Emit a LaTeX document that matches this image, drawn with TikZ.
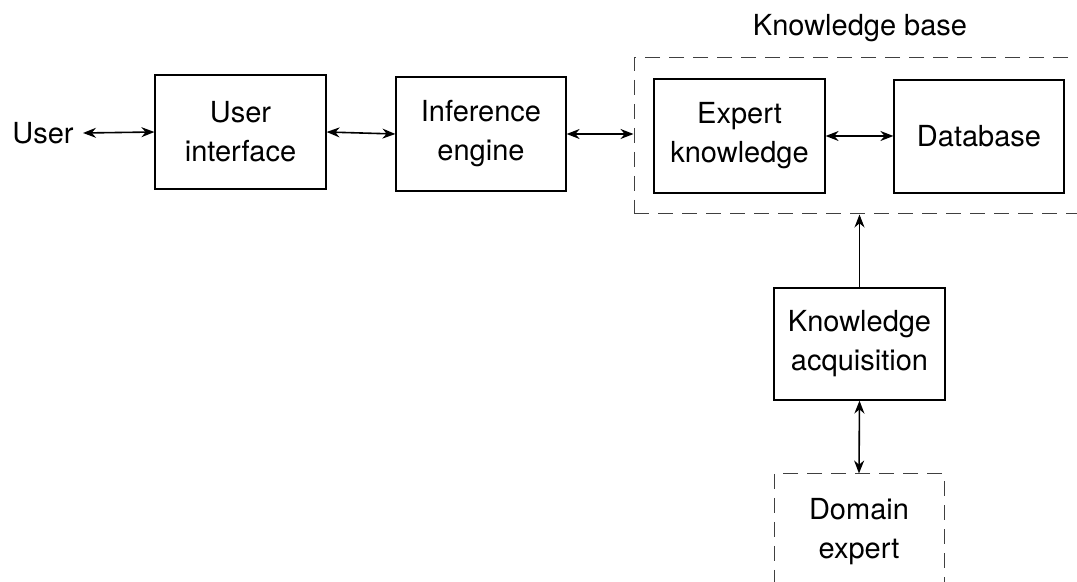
\documentclass[tikz,border=0pt]{standalone}
\usepackage{fontspec}
\setmainfont{TeX Gyre Heros}
\usetikzlibrary{arrows.meta}
\begin{document}
\begin{tikzpicture}[x=0.5pt,y=-0.5pt,
  every node/.style={font=\fontsize{14.5}{19.5}\selectfont, align=center, inner sep=0pt},
  box/.style={draw, line width=0.6pt},
  dbox/.style={draw=black!75, line width=0.5pt, dash pattern=on 7.5pt off 4.5pt},
  conn/.style={line width=0.8pt, {Stealth[length=6.5pt,width=5pt]}-{Stealth[length=6.5pt,width=5pt]}},
  uconn/.style={line width=0.5pt, -{Stealth[length=6.5pt,width=5pt]}}]
\clip (0,0) rectangle (1077,582);
\node (user) at (43,133) {User};
\node[box, minimum width=85.5pt, minimum height=57pt] (ui) at (240.5,132) {User\\interface};
\node[box, minimum width=85pt, minimum height=57pt] (ie) at (481,134) {Inference\\engine};
\node[dbox, minimum width=225.5pt, minimum height=78pt] (kb) at (859.5,136) {};
\node (kbl) at (860,28) {Knowledge base};
\node[box, minimum width=85.5pt, minimum height=57pt] (ek) at (739.5,136) {Expert\\knowledge};
\node[box, minimum width=85pt, minimum height=56.5pt] (db) at (979,136.5) {Database};
\node[box, minimum width=85.5pt, minimum height=56pt] (ka) at (859.5,344) {Knowledge\\acquisition};
\node[dbox, minimum width=85pt, minimum height=58pt] (de) at (859,532) {Domain\\expert};
\draw[conn] (user.east) ++(9,0) coordinate (u1) -- (ui.west);
\draw[conn] (ui.east) -- (ie.west);
\draw[conn] (ie.east) -- (kb.west |- ie.east);
\draw[conn] (ek.east) -- (db.west |- ek.east);
\draw[uconn] (ka.north) -- (kb.south);
\draw[conn] (ka.south) -- (de.north);
\end{tikzpicture}
\end{document}
